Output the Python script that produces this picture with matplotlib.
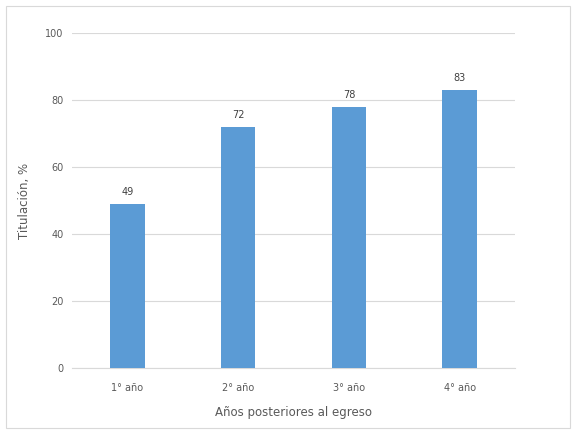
import matplotlib
matplotlib.use("Agg")
import matplotlib.pyplot as plt
from matplotlib.patches import Rectangle

categories = ["1° año", "2° año", "3° año", "4° año"]
values = [49, 72, 78, 83]
yticks = [0, 20, 40, 60, 80, 100]

fig = plt.figure(figsize=(5.77, 4.36), dpi=100)
ax = fig.add_axes([72 / 577, 1 - 368 / 436, (515 - 72) / 577, (368 - 33) / 436])

# light border around the whole chart area
fig.patches.append(Rectangle((6 / 577, 8 / 436), 564 / 577, 422 / 436, transform=fig.transFigure,
                             fill=False, edgecolor="#d9d9d9", linewidth=0.8))

x = range(len(categories))
bars = ax.bar(x, values, width=0.31, color="#5B9BD5", zorder=3)
for xi, v in zip(x, values):
    ax.text(xi, v + 2, str(v), ha="center", va="bottom", fontsize=7, color="#404040")

ax.set_xlim(-0.5, 3.5)
ax.set_ylim(0, 100)
ax.set_yticks(yticks)
ax.set_xticks(list(x))
ax.set_xticklabels(categories)
ax.tick_params(axis="both", length=0, labelsize=7, colors="#595959")
ax.tick_params(axis="y", pad=6)
ax.tick_params(axis="x", pad=11)
ax.grid(axis="y", color="#d9d9d9", linewidth=0.8, zorder=0)
for s in ["top", "right", "left"]:
    ax.spines[s].set_visible(False)
ax.spines["bottom"].set_color("#d9d9d9")
ax.set_ylabel("Titulación, %", fontsize=8.5, color="#595959", labelpad=10)
ax.set_xlabel("Años posteriores al egreso", fontsize=8.5, color="#595959", labelpad=9)

fig.savefig("out.png", dpi=100)
